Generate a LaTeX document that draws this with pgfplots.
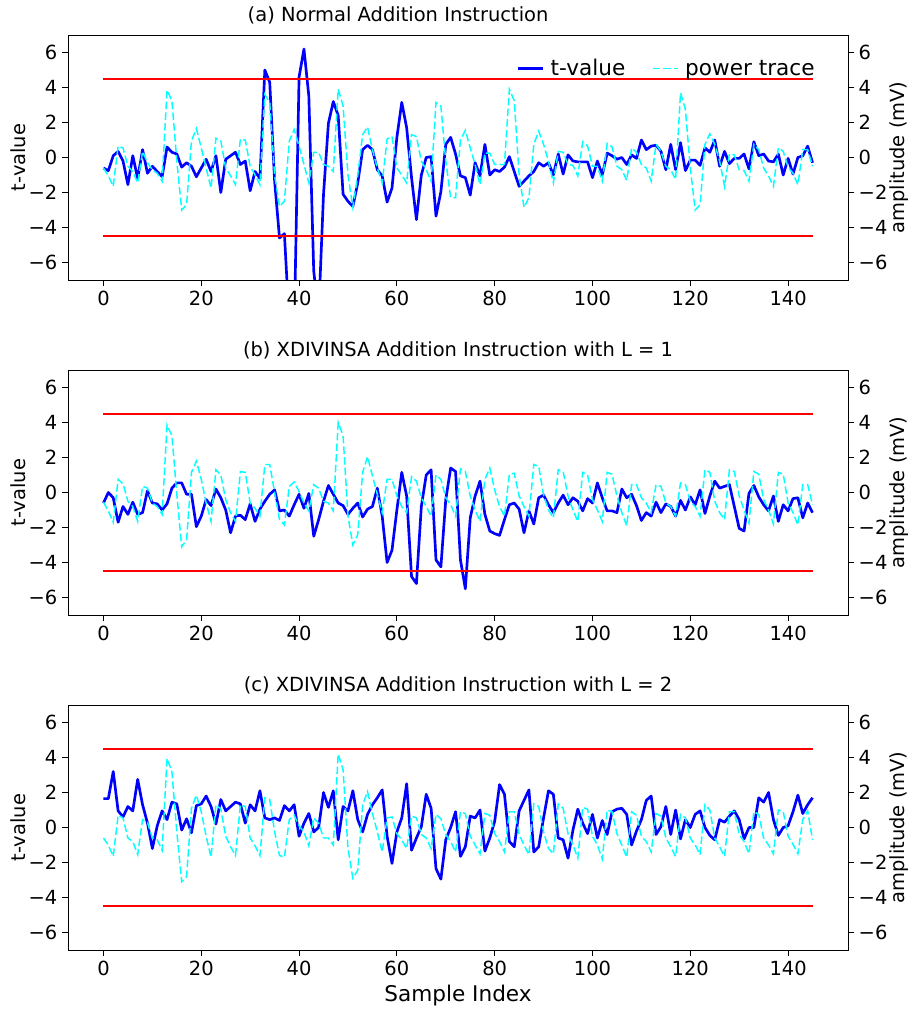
\documentclass[border=0pt]{standalone}
\usepackage{fontspec}
\setmainfont{DejaVu Sans}
\usepackage{pgfplots}
\pgfplotsset{compat=1.18}
\usepackage{pgfplotstable}

\definecolor{tblue}{RGB}{0,0,255}
\definecolor{pcyan}{RGB}{0,255,255}
\definecolor{hred}{RGB}{255,0,0}

% columns: sample index, t-value, power trace (mV)
\pgfplotstableread{
i t p
0 -0.6 -0.6
1 -0.75 -1.05
2 0.1 -1.65
3 0.35 0.65
4 -0.2 0.55
5 -1.55 -0.5
6 0.1 -0.8
7 -1.2 -1.45
8 0.45 0.35
9 -0.9 -0.3
10 -0.5 -0.7
11 -0.8 -0.9
12 -1.1 -1.35
13 0.6 3.85
14 0.3 3.25
15 0.2 -0.2
16 -0.55 -3.0
17 -0.3 -2.7
18 -0.5 0.95
19 -1.1 1.65
20 -0.6 0.55
21 -0.1 -0.6
22 -0.8 -1.75
23 0.1 1.1
24 -2.0 0.95
25 -0.1 -0.6
26 0.1 -1.05
27 0.3 -1.55
28 -0.4 1.05
29 -0.2 1.0
30 -1.9 -0.5
31 -0.8 -1.0
32 -1.2 -1.55
33 5.0 3.6
34 4.3 3.15
35 -1.35 -1.0
36 -4.6 -2.8
37 -4.35 -2.5
38 -9.5 0.95
39 -10 1.6
40 4.6 0.65
41 6.2 -0.4
42 3.5 -1.45
43 -6.5 0.3
44 -9 0.3
45 -2.1 -0.4
46 1.95 -0.5
47 3.2 -0.8
48 2.4 3.9
49 -2.1 2.95
50 -2.5 -1.0
51 -2.8 -2.85
52 -1.45 -1.0
53 0.45 1.3
54 0.7 1.75
55 0.45 0.45
56 -0.7 -0.6
57 -1.05 -1.45
58 -2.55 1.05
59 -1.75 1.2
60 1.15 -0.6
61 3.15 -1.0
62 1.7 -1.45
63 -1.15 1.3
64 -3.55 1.2
65 -1.0 -0.2
66 0.0 -0.7
67 0.05 -1.35
68 -3.35 3.15
69 -1.95 2.95
70 0.75 -0.2
71 1.15 -2.3
72 0.2 -2.3
73 -1.05 1.0
74 -1.15 1.55
75 -2.15 0.55
76 -0.3 -0.4
77 -1.05 -1.55
78 0.75 0.25
79 -1.0 0.25
80 -0.7 -0.4
81 -0.8 -0.4
82 -0.55 -0.4
83 0.05 3.9
84 -0.8 3.25
85 -1.65 -1.0
86 -1.35 -2.85
87 -1.05 -2.3
88 -0.8 0.75
89 -0.3 1.5
90 -0.5 0.75
91 -0.3 -0.2
92 -1.0 -1.45
93 0.2 0.35
94 -0.95 0.3
95 0.15 -0.4
96 -0.2 -0.45
97 -0.25 -1.05
98 -0.25 0.9
99 -0.25 0.65
100 -1.15 -0.5
101 -0.2 -0.5
102 -1.0 -1.35
103 0.25 0.8
104 0.1 0.6
105 -0.1 -0.5
106 0.0 -0.7
107 -0.4 -1.3
108 0.15 0.55
109 -0.05 0.3
110 1.0 -0.4
111 0.45 -0.6
112 0.65 -1.35
113 0.7 0.75
114 0.35 0.35
115 -0.7 -0.5
116 0.75 -0.7
117 -0.7 -1.25
118 0.85 3.7
119 -0.75 2.75
120 -0.15 -0.6
121 -0.15 -3.0
122 -0.45 -2.7
123 0.55 0.75
124 0.3 1.35
125 1.0 0.75
126 -0.5 -0.2
127 0.35 -1.65
128 -0.35 0.2
129 -0.05 0.15
130 -0.05 -0.7
131 0.2 -0.75
132 -0.65 -1.35
133 0.9 0.75
134 0.1 0.45
135 0.2 -0.6
136 -0.2 -1.05
137 -0.25 -1.65
138 0.2 0.55
139 -1.0 0.35
140 -0.05 -0.55
141 -0.95 -0.9
142 0.0 -1.55
143 0.1 0.45
144 0.65 0.45
145 -0.3 -0.5
}\dataA

\pgfplotstableread{
i t p
0 -0.6 -0.55
1 0.0 -1.05
2 -0.3 -1.7
3 -1.7 0.75
4 -0.8 0.5
5 -1.25 -0.5
6 -0.55 -0.8
7 -1.25 -1.65
8 -1.15 0.35
9 0.1 0.25
10 -0.6 -0.6
11 -0.65 -0.8
12 -1.0 -1.25
13 -0.65 3.85
14 0.25 3.25
15 0.55 -0.1
16 0.55 -3.1
17 -0.1 -2.7
18 -0.1 1.15
19 -1.95 1.8
20 -1.35 0.75
21 -0.4 -0.6
22 -0.75 -1.65
23 0.2 1.3
24 -0.3 1.0
25 -1.0 -0.4
26 -2.3 -1.15
27 -1.35 -1.65
28 -1.3 1.2
29 -1.55 1.15
30 -0.65 -0.6
31 -1.65 -0.9
32 -0.95 -1.35
33 -0.5 1.6
34 -0.1 1.6
35 0.15 0.0
36 -1.05 -1.55
37 -1.0 -1.85
38 -1.35 0.35
39 -0.7 0.6
40 -0.1 0.05
41 -0.9 -0.6
42 -0.05 -1.05
43 -2.5 0.45
44 -1.55 0.25
45 -0.5 -0.5
46 0.4 -0.6
47 -0.1 -1.05
48 -0.6 4.0
49 -0.75 3.25
50 -1.25 -1.35
51 -0.9 -3.0
52 -0.6 -2.4
53 -1.4 1.15
54 -0.95 2.05
55 -0.8 0.95
56 0.25 -0.1
57 -1.35 -1.15
58 -4.0 0.75
59 -3.3 0.75
60 -1.0 -0.2
61 1.15 -0.8
62 -0.2 -1.15
63 -4.8 0.9
64 -5.2 0.65
65 -0.8 -0.3
66 1.0 -0.8
67 1.3 -1.35
68 -3.85 1.0
69 -4.25 0.75
70 -0.4 -0.3
71 1.4 -0.7
72 1.2 -1.35
73 -3.85 1.35
74 -5.5 1.2
75 -1.45 -0.2
76 -0.2 -1.0
77 0.65 -1.65
78 -1.25 0.75
79 -2.2 1.4
80 -2.35 0.15
81 -2.45 -0.8
82 -1.55 -1.35
83 -0.7 1.05
84 -0.6 1.1
85 -0.95 -0.2
86 -2.3 -0.8
87 -1.05 -1.35
88 -1.8 1.6
89 -0.3 1.5
90 -0.15 -0.15
91 -0.7 -1.0
92 -1.15 -1.45
93 -0.6 1.3
94 -0.15 1.2
95 -0.7 -0.2
96 -0.3 -1.0
97 -0.5 -1.65
98 -1.05 1.15
99 -0.35 1.0
100 -0.6 -0.4
101 0.55 -1.0
102 -0.3 -1.65
103 -1.05 1.15
104 -1.05 1.05
105 -1.15 -0.2
106 0.2 -1.15
107 -0.3 -1.9
108 -0.1 0.45
109 -0.75 0.45
110 -1.6 -0.3
111 -1.15 -0.6
112 -1.35 -1.15
113 -0.55 0.45
114 -1.15 0.35
115 -0.65 -0.6
116 -0.8 -0.8
117 -1.35 -1.35
118 -0.45 0.55
119 -1.0 0.45
120 -0.25 -0.5
121 -0.7 -0.8
122 0.15 -1.35
123 -1.2 1.3
124 -0.2 1.15
125 0.65 -0.5
126 0.25 -1.15
127 0.35 -1.55
128 0.45 1.3
129 -0.8 1.2
130 -2.05 -0.2
131 -2.2 -1.0
132 -0.05 -1.75
133 0.4 1.2
134 -0.25 1.05
135 -0.7 -0.4
136 -1.05 -1.0
137 -0.2 -1.8
138 -1.65 1.15
139 -0.7 1.05
140 -1.05 -0.6
141 -0.35 -1.15
142 -0.3 -1.85
143 -1.45 0.45
144 -0.6 0.45
145 -1.15 -0.7
}\dataB

\pgfplotstableread{
i t p
0 1.65 -0.6
1 1.65 -1.0
2 3.2 -1.65
3 0.95 0.7
4 0.6 0.55
5 1.2 -0.6
6 0.95 -0.8
7 2.75 -1.55
8 1.3 0.45
9 0.25 0.3
10 -1.2 -0.6
11 0.1 -0.7
12 0.95 -1.3
13 0.45 3.95
14 1.45 3.2
15 1.35 -0.25
16 -0.15 -3.1
17 0.5 -2.8
18 -0.3 1.1
19 1.25 1.85
20 1.35 0.9
21 1.8 -0.5
22 1.2 -1.7
23 0.2 1.3
24 1.6 1.05
25 0.95 -0.5
26 1.2 -1.1
27 1.45 -1.6
28 1.35 1.3
29 0.25 1.2
30 1.3 -0.6
31 0.95 -1.05
32 2.1 -1.6
33 0.55 1.7
34 0.45 1.6
35 0.55 -0.25
36 0.4 -1.6
37 1.25 -1.7
38 0.95 0.45
39 1.3 0.7
40 -0.5 0.1
41 0.25 -0.25
42 0.8 -1.05
43 -0.25 0.55
44 0.0 0.25
45 2.0 -0.6
46 1.15 -0.6
47 2.1 -1.0
48 -0.7 4.2
49 1.2 3.3
50 0.95 -1.2
51 2.1 -2.9
52 0.45 -2.45
53 -0.25 1.3
54 0.75 2.05
55 1.3 0.8
56 1.7 -0.25
57 2.15 -1.4
58 -0.5 0.55
59 -2.05 0.6
60 -0.25 -0.35
61 0.55 -0.7
62 2.5 -1.2
63 -1.3 0.65
64 -0.6 0.55
65 0.05 -0.4
66 1.9 -0.6
67 1.1 -1.2
68 -2.35 0.75
69 -2.95 0.5
70 -0.7 -0.4
71 0.0 -0.8
72 0.9 -1.4
73 -1.65 0.9
74 -1.1 0.8
75 0.65 -0.5
76 0.55 -1.0
77 1.0 -1.5
78 -1.35 0.8
79 -0.6 0.7
80 0.35 -0.35
81 2.45 -0.8
82 1.9 -1.4
83 -0.8 0.9
84 -1.1 0.9
85 0.95 -0.4
86 1.55 -1.0
87 2.15 -1.55
88 -1.4 1.35
89 -1.1 1.2
90 0.55 -0.25
91 2.1 -1.2
92 1.9 -1.5
93 -0.6 1.35
94 -0.7 1.1
95 -1.75 -0.35
96 -0.15 -1.0
97 1.05 -1.75
98 0.25 1.15
99 -0.35 1.05
100 0.75 -0.5
101 -0.6 -1.0
102 0.4 -1.8
103 -0.4 1.0
104 0.9 0.9
105 1.05 -0.35
106 1.1 -1.0
107 0.75 -1.7
108 -1.0 0.9
109 -0.2 0.7
110 0.45 -0.5
111 1.55 -0.8
112 1.8 -1.4
113 -0.4 0.8
114 0.05 0.65
115 1.2 -0.6
116 -0.4 -1.1
117 1.0 -1.65
118 -0.65 0.75
119 0.45 0.55
120 0.0 -0.6
121 0.75 -1.0
122 0.95 -1.55
123 0.0 1.3
124 -0.45 1.0
125 -0.7 -0.6
126 0.45 -1.1
127 0.3 -1.65
128 0.65 0.9
129 0.95 0.9
130 0.45 -0.4
131 -0.65 -0.8
132 0.0 -1.5
133 0.0 0.9
134 1.7 0.75
135 1.45 -0.6
136 2.0 -1.0
137 0.45 -1.5
138 -0.45 1.0
139 0.0 0.9
140 0.1 -0.5
141 0.9 -0.95
142 1.85 -1.5
143 0.8 0.45
144 1.3 0.95
145 1.7 -0.7
}\dataC

\newcommand\tfs{\fontsize{14.6}{17}\selectfont}
\newcommand\lfs{\fontsize{16.2}{19}\selectfont}

\pgfplotsset{
  panel/.style={
    width=585pt, height=183.75pt, scale only axis,
    xmin=-7.25, xmax=152.25, ymin=-7, ymax=7,
    xtick={0,20,...,140}, ytick={-6,-4,...,6},
    yticklabels={−6,−4,−2,0,2,4,6},
    /pgf/number format/assume math mode=true,
    tick align=outside, major tick length=4.5pt,
    tick style={black, line width=0.6pt},
    axis line style={line width=0.6pt},
    tick label style={font=\tfs},
    label style={font=\tfs},
    title style={font=\tfs, yshift=-1pt},
    clip=true,
  },
  lft/.style={panel, xtick pos=bottom, ytick pos=left, ylabel={t-value},
    ylabel style={yshift=-4.5pt}},
  rgt/.style={panel, hide x axis, ytick pos=right, yticklabel pos=right,
    ylabel={amplitude (mV)}, ylabel style={yshift=5.5pt}},
  tline/.style={tblue, line width=2pt, line join=round},
  pline/.style={pcyan, line width=1.1pt, dash pattern=on 5.6pt off 2.4pt},
  hline/.style={hred, line width=1.4pt},
}

\begin{document}
\begin{tikzpicture}
\path[use as bounding box] (-51pt,26.25pt) rectangle (629.25pt,-732.75pt);

% (a)
\begin{axis}[lft, at={(0,0)}, anchor=north west, title={(a) Normal Addition Instruction},
  title style={at={(0.2244,1)}, anchor=south west}]
\addplot[tline] table[x=i, y=t] {\dataA};
\addplot[hline] coordinates {(0,4.5) (145,4.5)};
\addplot[hline] coordinates {(0,-4.5) (145,-4.5)};
\end{axis}
\begin{axis}[rgt, at={(0,0)}, anchor=north west,
  legend style={at={(0.966,0.923)}, anchor=north east, draw=none, fill=none,
    font=\lfs, legend columns=2,
    /tikz/every odd column/.append style={column sep=3pt},
    /tikz/every even column/.append style={column sep=18pt}},
  legend image code/.code={\draw[#1] (0pt,0pt) -- (18.75pt,0pt);}]
\addlegendimage{tline}
\addlegendentry{t-value}
\addplot[pline] table[x=i, y=p] {\dataA};
\addlegendentry{power trace}
\end{axis}

% (b)
\begin{axis}[lft, at={(0,-251.25pt)}, anchor=north west, title={(b) XDIVINSA Addition Instruction with L = 1}]
\addplot[tline] table[x=i, y=t] {\dataB};
\addplot[hline] coordinates {(0,4.5) (145,4.5)};
\addplot[hline] coordinates {(0,-4.5) (145,-4.5)};
\end{axis}
\begin{axis}[rgt, at={(0,-251.25pt)}, anchor=north west]
\addplot[pline] table[x=i, y=p] {\dataB};
\end{axis}

% (c)
\begin{axis}[lft, at={(0,-502.5pt)}, anchor=north west, title={(c) XDIVINSA Addition Instruction with L = 2},
  xlabel={Sample Index}, xlabel style={font=\lfs}]
\addplot[tline] table[x=i, y=t] {\dataC};
\addplot[hline] coordinates {(0,4.5) (145,4.5)};
\addplot[hline] coordinates {(0,-4.5) (145,-4.5)};
\end{axis}
\begin{axis}[rgt, at={(0,-502.5pt)}, anchor=north west]
\addplot[pline] table[x=i, y=p] {\dataC};
\end{axis}
\end{tikzpicture}
\end{document}
